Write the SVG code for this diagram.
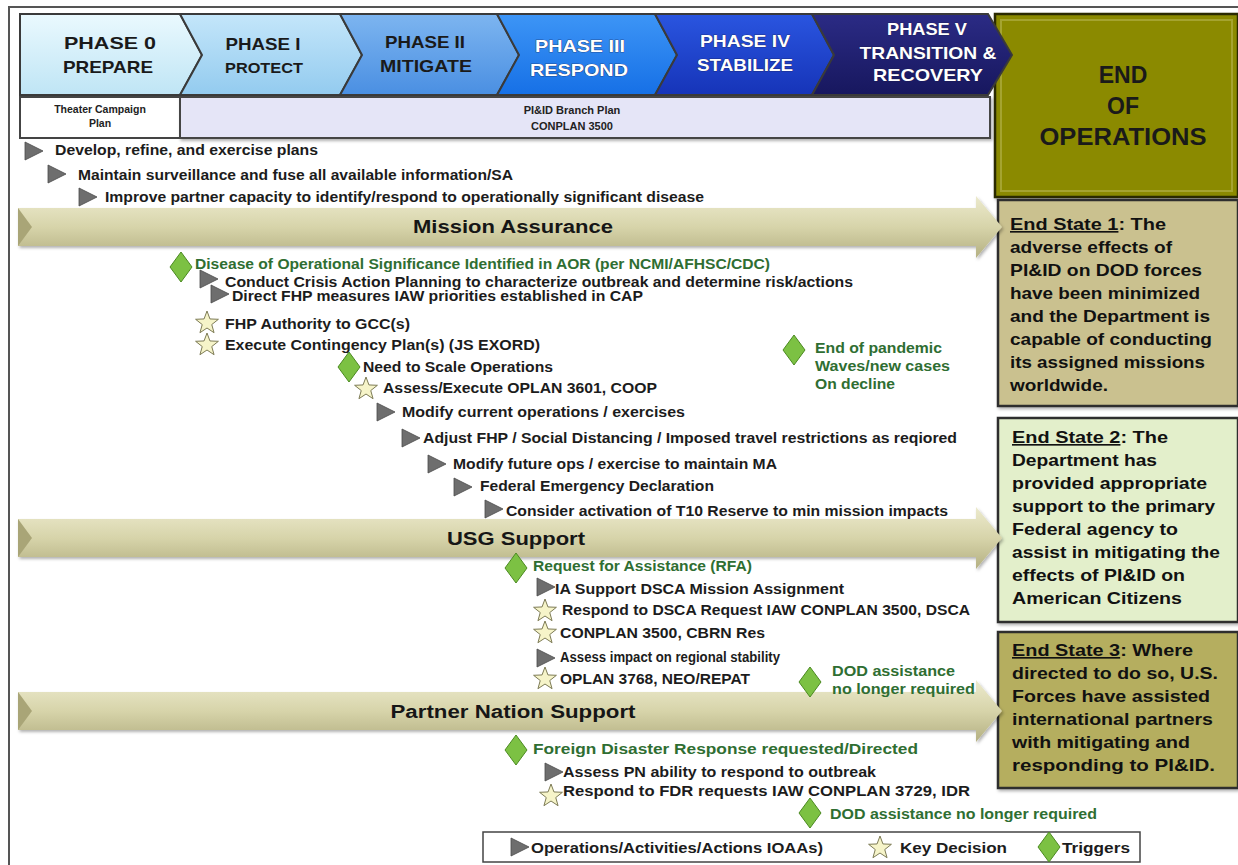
<svg xmlns="http://www.w3.org/2000/svg" xmlns:xlink="http://www.w3.org/1999/xlink" width="1238" height="865" viewBox="0 0 1238 865">
<style>
.t{font-family:"Liberation Sans",Arial,sans-serif;font-weight:bold;font-size:14.5px;fill:#1c1c1c}
.g{font-family:"Liberation Sans",Arial,sans-serif;font-weight:bold;font-size:14.5px;fill:#2f6e32}
.ph{font-family:"Liberation Sans",Arial,sans-serif;font-weight:bold;font-size:17px;text-anchor:middle}
.dk{fill:#1a1a1a}
.wt{fill:#ffffff;stroke:#1a1a40;stroke-width:0.6px;paint-order:stroke}
.band{font-family:"Liberation Sans",Arial,sans-serif;font-weight:bold;font-size:18px;fill:#161616;text-anchor:middle}
.es{font-family:"Liberation Sans",Arial,sans-serif;font-weight:bold;font-size:16.5px;fill:#111}
.sm{font-family:"Liberation Sans",Arial,sans-serif;font-weight:bold;font-size:10.5px;fill:#222;text-anchor:middle}
.chev{stroke:#3a3a3a;stroke-width:2}
.esbox{stroke:#2e2e2e;stroke-width:2.5}
</style>
<defs>
<linearGradient id="gp0" x1="0" y1="0" x2="0" y2="1"><stop offset="0" stop-color="#eaf9fe"/><stop offset="1" stop-color="#bfe5f5"/></linearGradient>
<linearGradient id="gp1" x1="0" y1="0" x2="0" y2="1"><stop offset="0" stop-color="#c4e6fa"/><stop offset="1" stop-color="#93cbef"/></linearGradient>
<linearGradient id="gp2" x1="0" y1="0" x2="0" y2="1"><stop offset="0" stop-color="#7db5f0"/><stop offset="1" stop-color="#4a8fe2"/></linearGradient>
<linearGradient id="gp3" x1="0" y1="0" x2="0" y2="1"><stop offset="0" stop-color="#3d95f6"/><stop offset="1" stop-color="#1670e6"/></linearGradient>
<linearGradient id="gp4" x1="0" y1="0" x2="0" y2="1"><stop offset="0" stop-color="#2a55e0"/><stop offset="1" stop-color="#1634b8"/></linearGradient>
<linearGradient id="gp5" x1="0" y1="0" x2="0" y2="1"><stop offset="0" stop-color="#2b2b85"/><stop offset="1" stop-color="#17175e"/></linearGradient>
<linearGradient id="gband" x1="0" y1="0" x2="0" y2="1"><stop offset="0" stop-color="#eceacd"/><stop offset="0.5" stop-color="#d7d4aa"/><stop offset="1" stop-color="#b4b082"/></linearGradient>
<filter id="sh" x="-5%" y="-10%" width="110%" height="130%"><feDropShadow dx="1.5" dy="2" stdDeviation="1.5" flood-color="#000" flood-opacity="0.3"/></filter>
<polygon id="tri" points="0,0 18,9 0,18" fill="#6e6e6e" stroke="#4a4a4a" stroke-width="0.8"/>
<polygon id="star" points="0,-12 2.94,-4.05 11.41,-3.71 4.76,1.55 7.05,9.71 0,5 -7.05,9.71 -4.76,1.55 -11.41,-3.71 -2.94,-4.05" fill="#f6f4c9" stroke="#7d7b55" stroke-width="1"/>
<polygon id="dia" points="0,-15 11,0 0,15 -11,0" fill="#7cc143" stroke="#4c8a22" stroke-width="1"/>
</defs>
<rect x="0" y="0" width="1238" height="865" fill="#ffffff"/>
<path d="M9,865 L9,7 L1238,7" fill="none" stroke="#555" stroke-width="2"/>

<g id="end-of-operations">
<rect x="995" y="14" width="243" height="183" fill="#8b8a00" stroke="#2b2b00" stroke-width="2.5" filter="url(#sh)"/>
<rect x="1001" y="20" width="231" height="171" fill="none" stroke="#a5a430" stroke-width="2"/>
<text x="1123" y="83" class="ph dk" style="font-size:23px">END</text>
<text x="1123" y="114" class="ph dk" style="font-size:23px">OF</text>
<text x="1123" y="145" class="ph dk" style="font-size:23px" textLength="167" lengthAdjust="spacingAndGlyphs">OPERATIONS</text>
</g>

<g id="phase-0">
<polygon class="chev" points="20,14 180,14 202,55 180,95 20,95" fill="url(#gp0)"/>
<text x="110" y="49" class="ph dk" textLength="92" lengthAdjust="spacingAndGlyphs">PHASE 0</text>
<text x="108" y="73" class="ph dk" textLength="90" lengthAdjust="spacingAndGlyphs">PREPARE</text>
</g>
<g id="phase-1">
<polygon class="chev" points="180,14 340,14 362,55 340,95 180,95 202,55" fill="url(#gp1)"/>
<text x="263" y="50" class="ph dk" textLength="75" lengthAdjust="spacingAndGlyphs">PHASE I</text>
<text x="264" y="73" class="ph dk" style="font-size:15.5px" textLength="78" lengthAdjust="spacingAndGlyphs">PROTECT</text>
</g>
<g id="phase-2">
<polygon class="chev" points="340,14 497,14 519,55 497,95 340,95 362,55" fill="url(#gp2)"/>
<text x="425" y="48" class="ph dk" textLength="80" lengthAdjust="spacingAndGlyphs">PHASE II</text>
<text x="426" y="72" class="ph dk" textLength="92" lengthAdjust="spacingAndGlyphs">MITIGATE</text>
</g>
<g id="phase-3">
<polygon class="chev" points="497,14 655,14 677,55 655,95 497,95 519,55" fill="url(#gp3)"/>
<text x="580" y="52" class="ph wt" textLength="90" lengthAdjust="spacingAndGlyphs">PHASE III</text>
<text x="579" y="76" class="ph wt" textLength="98" lengthAdjust="spacingAndGlyphs">RESPOND</text>
</g>
<g id="phase-4">
<polygon class="chev" points="655,14 812,14 834,55 812,95 655,95 677,55" fill="url(#gp4)"/>
<text x="745" y="47" class="ph wt" textLength="90" lengthAdjust="spacingAndGlyphs">PHASE IV</text>
<text x="745" y="71" class="ph wt" textLength="96" lengthAdjust="spacingAndGlyphs">STABILIZE</text>
</g>
<g id="phase-5">
<polygon class="chev" points="812,14 988,14 1012,55 988,95 812,95 834,55" fill="url(#gp5)"/>
<text x="927" y="35" class="ph wt" textLength="80" lengthAdjust="spacingAndGlyphs">PHASE V</text>
<text x="928" y="59" class="ph wt" textLength="137" lengthAdjust="spacingAndGlyphs">TRANSITION &amp;</text>
<text x="928" y="81" class="ph wt" textLength="110" lengthAdjust="spacingAndGlyphs">RECOVERY</text>
</g>

<g id="theater-campaign-plan">
<rect x="20" y="97" width="160" height="41" fill="#ffffff" stroke="#444" stroke-width="2"/>
<text x="100" y="113" class="sm">Theater Campaign</text>
<text x="100" y="127" class="sm">Plan</text>
</g>
<g id="branch-plan">
<rect x="180" y="97" width="810" height="41" fill="#e5e5f7" stroke="#444" stroke-width="2" filter="url(#sh)"/>
<text x="572" y="114" class="sm" style="font-size:11px">PI&amp;ID Branch Plan</text>
<text x="572" y="130" class="sm" style="font-size:11px">CONPLAN 3500</text>
</g>

<g id="end-state-1">
<rect class="esbox" x="998" y="200" width="240" height="206" fill="#cac18f" filter="url(#sh)"/>
<text class="es" x="1010" y="230" textLength="156" lengthAdjust="spacingAndGlyphs"><tspan text-decoration="underline">End State 1</tspan>:  The</text>
<text class="es" x="1010" y="253" textLength="162" lengthAdjust="spacingAndGlyphs">adverse effects of</text>
<text class="es" x="1010" y="276" textLength="192" lengthAdjust="spacingAndGlyphs">PI&amp;ID on DOD forces</text>
<text class="es" x="1010" y="299" textLength="190" lengthAdjust="spacingAndGlyphs">have been minimized</text>
<text class="es" x="1010" y="322" textLength="200" lengthAdjust="spacingAndGlyphs">and the Department is</text>
<text class="es" x="1010" y="345" textLength="202" lengthAdjust="spacingAndGlyphs">capable of conducting</text>
<text class="es" x="1010" y="368" textLength="195" lengthAdjust="spacingAndGlyphs">its assigned missions</text>
<text class="es" x="1010" y="391" textLength="98" lengthAdjust="spacingAndGlyphs">worldwide.</text>
</g>
<g id="end-state-2">
<rect class="esbox" x="998" y="418" width="240" height="204" fill="#e3efcb" filter="url(#sh)"/>
<text class="es" x="1012" y="443" textLength="156" lengthAdjust="spacingAndGlyphs"><tspan text-decoration="underline">End State 2</tspan>:  The</text>
<text class="es" x="1012" y="466" textLength="145" lengthAdjust="spacingAndGlyphs">Department has</text>
<text class="es" x="1012" y="489" textLength="195" lengthAdjust="spacingAndGlyphs">provided appropriate</text>
<text class="es" x="1012" y="512" textLength="203" lengthAdjust="spacingAndGlyphs">support to the primary</text>
<text class="es" x="1012" y="535" textLength="166" lengthAdjust="spacingAndGlyphs">Federal agency to</text>
<text class="es" x="1012" y="558" textLength="208" lengthAdjust="spacingAndGlyphs">assist in mitigating the</text>
<text class="es" x="1012" y="581" textLength="173" lengthAdjust="spacingAndGlyphs">effects of PI&amp;ID on</text>
<text class="es" x="1012" y="604" textLength="170" lengthAdjust="spacingAndGlyphs">American  Citizens</text>
</g>
<g id="end-state-3">
<rect class="esbox" x="998" y="632" width="240" height="156" fill="#b5ae5e" filter="url(#sh)"/>
<text class="es" x="1012" y="656" textLength="181" lengthAdjust="spacingAndGlyphs"><tspan text-decoration="underline">End State 3</tspan>:  Where</text>
<text class="es" x="1012" y="679" textLength="206" lengthAdjust="spacingAndGlyphs">directed to do so, U.S.</text>
<text class="es" x="1012" y="702" textLength="198" lengthAdjust="spacingAndGlyphs">Forces have assisted</text>
<text class="es" x="1012" y="725" textLength="201" lengthAdjust="spacingAndGlyphs">international partners</text>
<text class="es" x="1012" y="748" textLength="178" lengthAdjust="spacingAndGlyphs">with mitigating and</text>
<text class="es" x="1012" y="771" textLength="203" lengthAdjust="spacingAndGlyphs">responding to PI&amp;ID.</text>
</g>

<g id="connectors">
<g id="band-mission-assurance">
<path d="M18,208 L976,208 L976,196 L1002,227 L976,258 L976,246 L18,246 Z" fill="url(#gband)" filter="url(#sh)"/>
<polygon points="18,208 32,227 18,246" fill="#a9a577"/>
<text x="513" y="233" class="band" textLength="200" lengthAdjust="spacingAndGlyphs">Mission  Assurance</text>
</g>
<g id="band-usg-support">
<path d="M18,519 L976,519 L976,507 L1002,538 L976,569 L976,557 L18,557 Z" fill="url(#gband)" filter="url(#sh)"/>
<polygon points="18,519 32,538 18,557" fill="#a9a577"/>
<text x="516" y="545" class="band" style="font-size:19px" textLength="138" lengthAdjust="spacingAndGlyphs">USG  Support</text>
</g>
<g id="band-partner-nation">
<path d="M18,692 L976,692 L976,680 L1002,711 L976,742 L976,730 L18,730 Z" fill="url(#gband)" filter="url(#sh)"/>
<polygon points="18,692 32,711 18,730" fill="#a9a577"/>
<text x="513" y="718" class="band" textLength="245" lengthAdjust="spacingAndGlyphs">Partner  Nation  Support</text>
</g>
</g>

<g id="ioaa-develop"><use href="#tri" x="25" y="142"/><text class="t" x="55" y="155" textLength="263" lengthAdjust="spacingAndGlyphs">Develop, refine, and exercise plans</text></g>
<g id="ioaa-maintain"><use href="#tri" x="48" y="165"/><text class="t" x="78" y="180" textLength="435" lengthAdjust="spacingAndGlyphs">Maintain surveillance and fuse all available information/SA</text></g>
<g id="ioaa-improve"><use href="#tri" x="79" y="188"/><text class="t" x="105" y="202" textLength="599" lengthAdjust="spacingAndGlyphs">Improve partner capacity to identify/respond to operationally significant disease</text></g>

<g id="trigger-disease"><use href="#dia" x="181" y="267"/><text class="g" x="195" y="269" textLength="575" lengthAdjust="spacingAndGlyphs">Disease of Operational Significance Identified in AOR (per NCMI/AFHSC/CDC)</text></g>
<g id="ioaa-conduct-cap"><use href="#tri" x="200" y="270"/><text class="t" x="225" y="287" textLength="628" lengthAdjust="spacingAndGlyphs">Conduct Crisis Action Planning to characterize outbreak and determine risk/actions</text></g>
<g id="ioaa-direct-fhp"><use href="#tri" x="211" y="285"/><text class="t" x="232" y="301" textLength="411" lengthAdjust="spacingAndGlyphs">Direct FHP  measures IAW priorities established in CAP</text></g>
<g id="decision-fhp-authority"><use href="#star" x="207" y="323"/><text class="t" x="225" y="329" textLength="185" lengthAdjust="spacingAndGlyphs">FHP Authority to GCC(s)</text></g>
<g id="decision-execute-plans"><use href="#star" x="207" y="345"/><text class="t" x="225" y="350" textLength="315" lengthAdjust="spacingAndGlyphs">Execute Contingency  Plan(s) (JS EXORD)</text></g>
<g id="trigger-scale"><use href="#dia" x="349" y="367"/><text class="t" x="363" y="372" textLength="190" lengthAdjust="spacingAndGlyphs">Need to Scale Operations</text></g>
<g id="decision-oplan-3601"><use href="#star" x="366" y="389"/><text class="t" x="383" y="393" textLength="274" lengthAdjust="spacingAndGlyphs">Assess/Execute OPLAN 3601, COOP</text></g>
<g id="ioaa-modify-current"><use href="#tri" x="377" y="403"/><text class="t" x="402" y="417" textLength="283" lengthAdjust="spacingAndGlyphs">Modify current operations / exercises</text></g>
<g id="ioaa-adjust-fhp"><use href="#tri" x="402" y="429"/><text class="t" x="423" y="443" textLength="534" lengthAdjust="spacingAndGlyphs">Adjust FHP / Social Distancing / Imposed travel restrictions as reqiored</text></g>
<g id="ioaa-modify-future"><use href="#tri" x="428" y="455"/><text class="t" x="453" y="469" textLength="324" lengthAdjust="spacingAndGlyphs">Modify future ops / exercise to maintain MA</text></g>
<g id="ioaa-federal-emergency"><use href="#tri" x="454" y="478"/><text class="t" x="480" y="491" textLength="234" lengthAdjust="spacingAndGlyphs">Federal Emergency Declaration</text></g>
<g id="ioaa-t10-reserve"><use href="#tri" x="485" y="500"/><text class="t" x="506" y="516" textLength="442" lengthAdjust="spacingAndGlyphs">Consider activation of T10 Reserve to min mission impacts</text></g>
<g id="trigger-end-pandemic"><use href="#dia" x="794" y="350"/>
<text class="g" x="815" y="353" textLength="127" lengthAdjust="spacingAndGlyphs">End of pandemic</text>
<text class="g" x="815" y="371" textLength="135" lengthAdjust="spacingAndGlyphs">Waves/new cases</text>
<text class="g" x="815" y="389" textLength="80" lengthAdjust="spacingAndGlyphs">On decline</text></g>

<g id="trigger-rfa"><use href="#dia" x="516" y="568"/><text class="g" x="533" y="571" textLength="219" lengthAdjust="spacingAndGlyphs">Request for Assistance (RFA)</text></g>
<g id="ioaa-ia-support"><use href="#tri" x="537" y="578"/><text class="t" x="555" y="594" textLength="289" lengthAdjust="spacingAndGlyphs">IA Support DSCA Mission Assignment</text></g>
<g id="decision-dsca"><use href="#star" x="545" y="611"/><text class="t" x="562" y="615" textLength="408" lengthAdjust="spacingAndGlyphs">Respond to DSCA  Request IAW CONPLAN  3500, DSCA</text></g>
<g id="decision-cbrn"><use href="#star" x="545" y="633"/><text class="t" x="560" y="638" textLength="205" lengthAdjust="spacingAndGlyphs">CONPLAN  3500, CBRN  Res</text></g>
<g id="ioaa-regional-stability"><use href="#tri" x="537" y="649"/><text class="t" x="560" y="662" textLength="220" lengthAdjust="spacingAndGlyphs">Assess impact on regional stability</text></g>
<g id="decision-oplan-3768"><use href="#star" x="545" y="679"/><text class="t" x="560" y="684" textLength="190" lengthAdjust="spacingAndGlyphs">OPLAN  3768, NEO/REPAT</text></g>
<g id="trigger-dod-no-longer-1"><use href="#dia" x="810" y="682"/>
<text class="g" x="832" y="676" textLength="123" lengthAdjust="spacingAndGlyphs">DOD assistance</text>
<text class="g" x="832" y="694" textLength="143" lengthAdjust="spacingAndGlyphs">no longer  required</text></g>

<g id="trigger-fdr"><use href="#dia" x="516" y="750"/><text class="g" x="533" y="754" textLength="385" lengthAdjust="spacingAndGlyphs">Foreign Disaster  Response  requested/Directed</text></g>
<g id="ioaa-assess-pn"><use href="#tri" x="545" y="763"/><text class="t" x="563" y="777" textLength="313" lengthAdjust="spacingAndGlyphs">Assess  PN ability to respond to outbreak</text></g>
<g id="decision-fdr"><use href="#star" x="551" y="796"/><text class="t" x="563" y="796" textLength="407" lengthAdjust="spacingAndGlyphs">Respond to FDR  requests IAW CONPLAN  3729, IDR</text></g>
<g id="trigger-dod-no-longer-2"><use href="#dia" x="810" y="813"/><text class="g" x="830" y="819" textLength="267" lengthAdjust="spacingAndGlyphs">DOD assistance no longer  required</text></g>

<g id="legend">
<rect x="483" y="832" width="657" height="30" fill="#ffffff" stroke="#444" stroke-width="1.5"/>
<use href="#tri" x="511" y="838"/>
<text class="t" x="531" y="853" style="font-size:15px" textLength="292" lengthAdjust="spacingAndGlyphs">Operations/Activities/Actions  IOAAs)</text>
<use href="#star" x="880" y="848"/>
<text class="t" x="900" y="853" style="font-size:15px" textLength="107" lengthAdjust="spacingAndGlyphs">Key Decision</text>
<use href="#dia" x="1049" y="847"/>
<text class="t" x="1062" y="853" style="font-size:15px" textLength="68" lengthAdjust="spacingAndGlyphs">Triggers</text>
</g>
</svg>
